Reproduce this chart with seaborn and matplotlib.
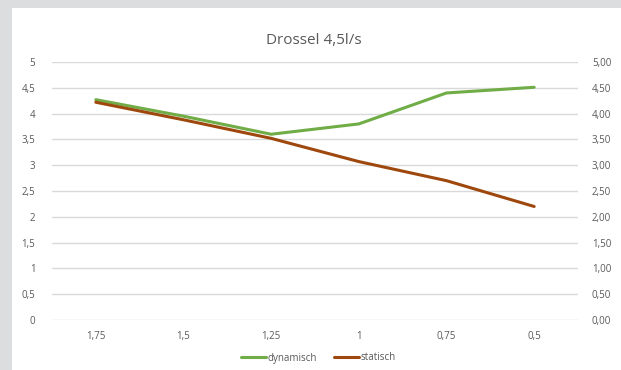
import matplotlib
matplotlib.use("Agg")
import matplotlib.pyplot as plt
import seaborn as sns
import pandas as pd
from matplotlib.patches import Rectangle
from matplotlib.lines import Line2D

categories = ["1,75", "1,5", "1,25", "1", "0,75", "0,5"]
dynamisch = [4.27, 3.95, 3.60, 3.80, 4.40, 4.51]
statisch = [4.22, 3.88, 3.52, 3.07, 2.70, 2.20]
left_ticks = [0, 0.5, 1, 1.5, 2, 2.5, 3, 3.5, 4, 4.5, 5]
left_labels = ["0", "0,5", "1", "1,5", "2", "2,5", "3", "3,5", "4", "4,5", "5"]
right_labels = ["0,00", "0,50", "1,00", "1,50", "2,00", "2,50", "3,00", "3,50", "4,00", "4,50", "5,00"]
title = "Drossel 4,5l/s"

sns.set_theme(style="white")
plt.rcParams['font.family'] = ['Open Sans', 'DejaVu Sans']

df = pd.DataFrame({
    "x": categories * 2,
    "y": dynamisch + statisch,
    "series": ["dynamisch"] * len(categories) + ["statisch"] * len(categories),
})

fig = plt.figure(figsize=(6.21, 3.70), dpi=100)
fig.patch.set_facecolor("#dcdddf")
fig.patches.append(Rectangle((12 / 621, 0), 1 - 12 / 621, 1 - 8 / 370,
                             transform=fig.transFigure, facecolor="white",
                             edgecolor="none", zorder=-10))

ax = fig.add_axes([52 / 621, 1 - 320 / 370, 526 / 621, 258 / 370])
ax.set_facecolor("none")
palette = {"dynamisch": "#70ad47", "statisch": "#9e480e"}
sns.lineplot(data=df, x="x", y="y", hue="series", palette=palette, ax=ax,
             linewidth=2.2, sort=False, legend=False)

ax.set_xlim(-0.5, len(categories) - 0.5)
ax.set_ylim(0, 5)
ax.set_yticks(left_ticks)
ax.set_yticklabels(left_labels)
ax.set_xticks(range(len(categories)))
ax.set_xticklabels(categories)
ax.set_xlabel("")
ax.set_ylabel("")
ax.grid(axis="y", color="#d9d9d9", linewidth=1)
ax.set_axisbelow(True)
for s in ax.spines.values():
    s.set_visible(False)
ax.tick_params(axis="both", length=0, labelsize=7, labelcolor="#595959")
ax.tick_params(axis="x", pad=8)
ax.tick_params(axis="y", pad=12)

ax2 = ax.twinx()
ax2.set_ylim(0, 5)
ax2.set_yticks(left_ticks)
ax2.set_yticklabels(right_labels)
for s in ax2.spines.values():
    s.set_visible(False)
ax2.tick_params(axis="y", length=0, labelsize=7, labelcolor="#595959", pad=10)
ax2.grid(False)

fig.text(0.5 + 3 / 621, 1 - 40 / 370, title, ha="center", va="center",
         fontsize=11, color="#595959")

handles = [Line2D([], [], color=palette[k], linewidth=2.2) for k in ["dynamisch", "statisch"]]
fig.legend(handles, ["dynamisch", "statisch"], loc="center",
           bbox_to_anchor=(318 / 621, 1 - 358 / 370), ncol=2, frameon=False,
           fontsize=7, labelcolor="#595959", handlelength=2.6, handletextpad=0.1,
           columnspacing=1.8)

fig.savefig("out.png", dpi=100, facecolor=fig.get_facecolor())
